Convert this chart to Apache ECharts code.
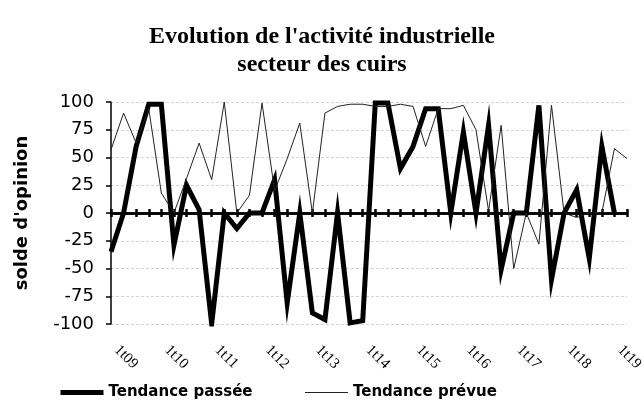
<!DOCTYPE html>
<html>
<head>
<meta charset="utf-8">
<script src="https://cdn.jsdelivr.net/npm/echarts@6/dist/echarts.min.js"></script>
<style>
html,body{margin:0;padding:0;background:#fff;}
#chart{width:644px;height:410px;}
</style>
</head>
<body>
<div id="chart"></div>
<script>
var categories = [
  '1t09','2t09','3t09','4t09','1t10','2t10','3t10','4t10',
  '1t11','2t11','3t11','4t11','1t12','2t12','3t12','4t12',
  '1t13','2t13','3t13','4t13','1t14','2t14','3t14','4t14',
  '1t15','2t15','3t15','4t15','1t16','2t16','3t16','4t16',
  '1t17','2t17','3t17','4t17','1t18','2t18','3t18','4t18',
  '1t19','2t19'
];
var tendancePassee = [
  -35, 0, 60, 98, 98, -29, 25, 3, -100, 0, -14, 0, 0, 30, -81, 0,
  -90, -96, 0, -99, -97, 99, 99, 40, 60, 94, 94, 0, 73, 0, 79, -51,
  0, 0, 97, -60, 0, 21, -41, 60, 0, null
];
var tendancePrevue = [
  57, 90, 63, 94, 18, 0, 31, 63, 30, 100, 0, 16, 99, 20, 49, 81,
  0, 90, 96, 98, 98, 96, 96, 98, 96, 60, 94, 94, 97, 75, 2, 79,
  -50, 0, -28, 97, 0, -4, 0, 0, 58, 49
];
var yTicks = { min: -100, max: 100, step: 25 };

var chart = echarts.init(document.getElementById('chart'));
var sans = 'DejaVu Sans';
chart.setOption({
  animation: false,
  backgroundColor: '#ffffff',
  title: {
    text: "Evolution de l'activité industrielle\nsecteur des cuirs",
    left: 'center',
    top: 18,
    textStyle: {
      fontFamily: 'Liberation Serif',
      fontWeight: 'bold',
      fontSize: 24,
      lineHeight: 28,
      color: '#000'
    }
  },
  legend: {
    left: 53,
    bottom: 5,
    itemWidth: 43,
    itemHeight: 12,
    itemGap: 52,
    itemStyle: { opacity: 0 },
    textStyle: { fontFamily: sans, fontWeight: 'bold', fontSize: 15, color: '#000' },
    data: [
      { name: 'Tendance passée', lineStyle: { width: 5, color: '#000' } },
      { name: 'Tendance prévue', lineStyle: { width: 1, color: '#222' } }
    ]
  },
  grid: { left: 111, right: 17, top: 102, bottom: 86, containLabel: false, outerBoundsMode: 'none' },
  xAxis: [
    {
      type: 'category',
      data: categories,
      boundaryGap: false,
      position: 'bottom',
      axisLine: { onZero: true, onZeroAxisIndex: 0, lineStyle: { color: '#000', width: 2.5 } },
      axisTick: { interval: 0, length: 4, lineStyle: { color: '#000', width: 2.5 } },
      axisLabel: { show: false },
      splitLine: { show: false }
    },
    {
      type: 'category',
      data: categories,
      boundaryGap: false,
      position: 'top',
      axisLine: { onZero: true, onZeroAxisIndex: 1, lineStyle: { color: '#000', width: 2.5 } },
      axisTick: { interval: 0, length: 4, lineStyle: { color: '#000', width: 2.5 } },
      axisLabel: { show: false },
      splitLine: { show: false }
    },
    {
      type: 'category',
      data: categories,
      boundaryGap: false,
      position: 'bottom',
      offset: 0,
      axisLine: { show: false, onZero: false },
      axisTick: { show: false },
      axisLabel: {
        show: true,
        interval: 3,
        rotate: -45,
        margin: 18,
        padding: [0, 0, 0, 8],
        fontFamily: 'Liberation Serif',
        fontSize: 15,
        color: '#000'
      },
      splitLine: { show: false }
    }
  ],
  yAxis: [
    {
      type: 'value',
      min: yTicks.min,
      max: yTicks.max,
      interval: yTicks.step,
      name: "solde d'opinion",
      nameLocation: 'middle',
      nameRotate: 90,
      nameGap: 80,
      nameTextStyle: { fontFamily: sans, fontWeight: 'bold', fontSize: 18, color: '#000' },
      axisLine: { show: true, onZero: false, lineStyle: { color: '#000', width: 1.5 } },
      axisTick: { show: true, length: 5, lineStyle: { color: '#000', width: 1.5 } },
      axisLabel: { margin: 17, fontFamily: sans, fontSize: 18, color: '#000' },
      splitLine: { show: true, lineStyle: { color: '#d4d4d4', width: 1, type: [3, 2] } }
    },
    {
      type: 'value',
      min: yTicks.min,
      max: yTicks.max,
      interval: yTicks.step,
      position: 'left',
      show: false,
      axisLine: { show: false, onZero: false },
      splitLine: { show: false }
    }
  ],
  series: [
    {
      name: 'Tendance passée',
      type: 'line',
      xAxisIndex: 0,
      yAxisIndex: 0,
      data: tendancePassee,
      symbol: 'none',
      color: '#000',
      lineStyle: { color: '#000', width: 5, join: 'miter' }
    },
    {
      name: 'Tendance prévue',
      type: 'line',
      xAxisIndex: 0,
      yAxisIndex: 0,
      data: tendancePrevue,
      symbol: 'none',
      color: '#222',
      lineStyle: { color: '#222', width: 1, join: 'miter' }
    }
  ]
});
</script>
</body>
</html>
